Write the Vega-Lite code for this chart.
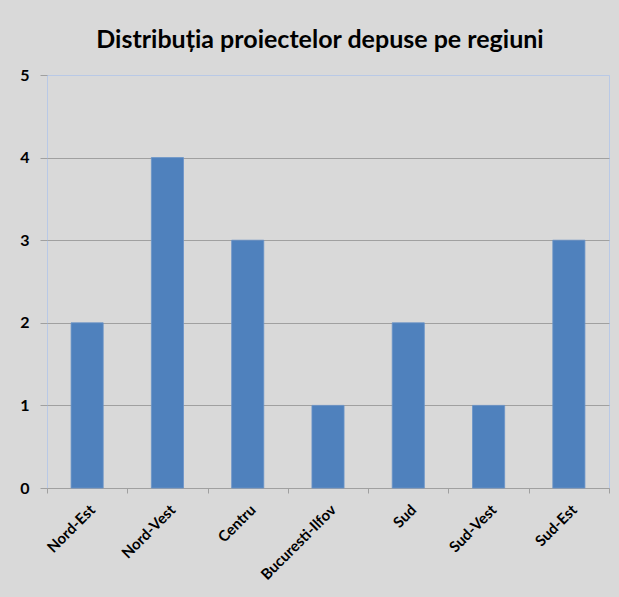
{
  "$schema": "https://vega.github.io/schema/vega-lite/v6.json",
  "autosize": {"type": "none"},
  "width": 562,
  "height": 413,
  "padding": {"left": 47, "top": 75, "right": 10, "bottom": 109},
  "background": "#d9d9d9",
  "title": {
    "text": "Distribuția proiectelor depuse pe regiuni",
    "font": "Lato",
    "fontSize": 25,
    "fontWeight": "bold",
    "color": "#000000",
    "anchor": "middle",
    "offset": 14,
    "dx": -8
  },
  "data": {
    "values": [
      {"regiune": "Nord-Est", "proiecte": 2},
      {"regiune": "Nord-Vest", "proiecte": 4},
      {"regiune": "Centru", "proiecte": 3},
      {"regiune": "Bucuresti-Ilfov", "proiecte": 1},
      {"regiune": "Sud", "proiecte": 2},
      {"regiune": "Sud-Vest", "proiecte": 1},
      {"regiune": "Sud-Est", "proiecte": 3}
    ]
  },
  "mark": {"type": "bar", "width": {"band": 0.4}, "color": "#4f81bd", "stroke": "#6a93c8", "strokeWidth": 0.8},
  "encoding": {
    "x": {
      "field": "regiune",
      "type": "nominal",
      "sort": null,
      "scale": {"paddingInner": 0, "paddingOuter": 0},
      "axis": {
        "title": null,
        "labelAngle": -45,
        "tickBand": "extent",
        "grid": false,
        "domainColor": "#a0a0a0",
        "tickColor": "#a0a0a0",
        "tickSize": 5,
        "labelPadding": 9,
        "labelFont": "Lato",
        "labelFontSize": 15,
        "labelFontWeight": "bold",
        "labelColor": "#000000"
      }
    },
    "y": {
      "field": "proiecte",
      "type": "quantitative",
      "scale": {"domain": [0, 5], "nice": false},
      "axis": {
        "title": null,
        "values": [0, 1, 2, 3, 4, 5],
        "domain": false,
        "tickSize": 7,
        "tickColor": "#a0a0a0",
        "labelPadding": 11,
        "labelFont": "Lato",
        "labelFontSize": 16,
        "labelFontWeight": "bold",
        "labelColor": "#000000",
        "grid": true,
        "gridColor": {"condition": {"test": "datum.value === 5", "value": "#b9c9e6"}, "value": "#a0a0a0"},
        "gridOpacity": 1
      }
    }
  },
  "config": {"view": {"stroke": "#b9c9e6", "fill": "#d9d9d9"}}
}
